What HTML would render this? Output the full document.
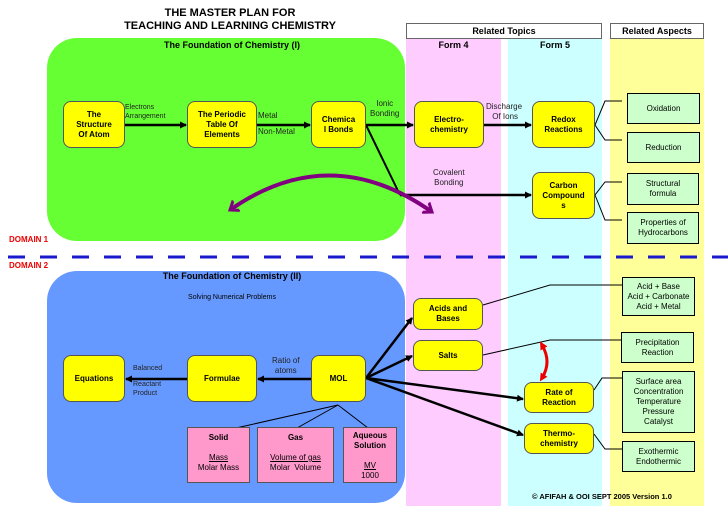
<!DOCTYPE html>
<html><head><style>
body{margin:0;width:728px;height:514px;background:#fff;font-family:"Liberation Sans",sans-serif;position:relative;overflow:hidden}
.a{position:absolute}
.y{position:absolute;background:#ffff00;border:1px solid #555;border-radius:8px;display:flex;align-items:center;justify-content:center;text-align:center;font-weight:bold;font-size:8px;line-height:10px;box-sizing:border-box}
.g{position:absolute;background:#ccffcc;border:1px solid #000;display:flex;align-items:center;justify-content:center;text-align:center;font-size:8px;line-height:10px;box-sizing:border-box}
.p{position:absolute;background:#ff99cc;border:1px solid #555;text-align:center;font-size:8px;line-height:10px;box-sizing:border-box;padding-top:5px}
.t{position:absolute;font-size:7px;line-height:9px;color:#222}
</style></head><body>
<div class="a" style="left:406px;top:38px;width:95px;height:468px;background:#ffccff"></div>
<div class="a" style="left:508px;top:38px;width:94px;height:468px;background:#ccffff"></div>
<div class="a" style="left:610px;top:38px;width:94px;height:468px;background:#ffff99"></div>
<div class="a" style="left:406px;top:23px;width:196px;height:16px;border:1px solid #666;box-sizing:border-box;font-size:9px;font-weight:bold;text-align:center;line-height:14px;background:#fff">Related Topics</div>
<div class="a" style="left:610px;top:23px;width:94px;height:16px;border:1px solid #666;box-sizing:border-box;font-size:9px;font-weight:bold;text-align:center;line-height:14px;background:#fff">Related Aspects</div>
<div class="a" style="left:406px;top:40px;width:95px;text-align:center;font-size:9px;font-weight:bold">Form 4</div>
<div class="a" style="left:508px;top:40px;width:94px;text-align:center;font-size:9px;font-weight:bold">Form 5</div>
<div class="a" style="left:47px;top:38px;width:358px;height:203px;background:#66ff33;border-radius:30px"></div>
<div class="a" style="left:47px;top:271px;width:358px;height:232px;background:#6699ff;border-radius:30px"></div>
<div class="a" style="left:0;top:7px;width:460px;text-align:center;font-size:11px;font-weight:bold;line-height:13px">THE MASTER PLAN FOR<br>TEACHING AND LEARNING CHEMISTRY</div>
<div class="a" style="left:47px;top:40px;width:370px;text-align:center;font-size:9px;font-weight:bold">The Foundation of Chemistry (I)</div>
<div class="a" style="left:47px;top:271px;width:370px;text-align:center;font-size:9px;font-weight:bold">The Foundation of Chemistry (II)</div>
<div class="a" style="left:47px;top:294px;width:370px;text-align:center;font-size:7px">Solving Numerical Problems</div>
<div class="a" style="left:9px;top:235px;font-size:8px;font-weight:bold;color:#e00">DOMAIN 1</div>
<div class="a" style="left:9px;top:261px;font-size:8px;font-weight:bold;color:#e00">DOMAIN 2</div>
<svg class="a" style="left:0;top:0" width="728" height="514">
<defs><marker id="m" markerWidth="7" markerHeight="7" refX="6" refY="3.5" orient="auto" markerUnits="userSpaceOnUse"><path d="M0,0L7,3.5L0,7z" fill="#000"/></marker>
<marker id="pm" markerWidth="14" markerHeight="14" refX="8" refY="7" orient="auto-start-reverse" markerUnits="userSpaceOnUse"><path d="M0,1L8,7L0,13" fill="none" stroke="#800080" stroke-width="3"/></marker>
<marker id="rm" markerWidth="8" markerHeight="8" refX="4" refY="4" orient="auto-start-reverse" markerUnits="userSpaceOnUse"><path d="M0,0L8,4L0,8z" fill="#e00"/></marker></defs>
<line x1="8" y1="257" x2="728" y2="257" stroke="#1a1acc" stroke-width="3" stroke-dasharray="17,15"/>
<g stroke="#000" stroke-width="2.5" marker-end="url(#m)">
<line x1="125" y1="125" x2="186" y2="125"/><line x1="257" y1="125" x2="310" y2="125"/>
<line x1="366" y1="125" x2="413" y2="125"/><line x1="484" y1="125" x2="531" y2="125"/>
<line x1="400" y1="195" x2="531" y2="195"/>
<line x1="311" y1="379" x2="258" y2="379"/><line x1="187" y1="379" x2="126" y2="379"/>
<line x1="366" y1="378" x2="412" y2="318"/><line x1="366" y1="378" x2="412" y2="356"/>
<line x1="366" y1="378" x2="523" y2="399"/><line x1="366" y1="378" x2="523" y2="435"/>
</g>
<polyline points="366,125 400,195" fill="none" stroke="#000" stroke-width="2"/>
<path d="M230,210 Q330,140 432,212" fill="none" stroke="#800080" stroke-width="4" marker-end="url(#pm)" marker-start="url(#pm)"/>
<g stroke="#000" stroke-width="1" fill="none">
<polyline points="622,101 605,101 595,125 605,140 622,140"/>
<polyline points="622,182 605,182 595,195 605,220 622,220"/>
<polyline points="483,305 550,285 622,285"/>
<polyline points="483,355 550,340 621,340"/>
<polyline points="594,390 602,378 622,378"/>
<polyline points="594,434 605,449 622,449"/>
<polyline points="338,405 236,428"/><polyline points="338,405 297,428"/><polyline points="338,405 368,428"/>
</g>
<path d="M542,345 Q552,362 542,378" fill="none" stroke="#e00" stroke-width="3" marker-end="url(#rm)" marker-start="url(#rm)"/>
</svg>
<div class="t" style="left:125px;top:103px">Electrons<br>Arrangement</div>
<div class="t" style="left:258px;top:111px;font-size:8px">Metal</div>
<div class="t" style="left:258px;top:127px;font-size:8px">Non-Metal</div>
<div class="t" style="left:370px;top:99px;text-align:center;font-size:8px;line-height:10px">Ionic<br>Bonding</div>
<div class="t" style="left:486px;top:102px;text-align:center;font-size:8px;line-height:10px">Discharge<br>&nbsp;Of Ions</div>
<div class="t" style="left:433px;top:168px;text-align:center;font-size:8px;line-height:10px">Covalent<br>Bonding</div>
<div class="t" style="left:272px;top:356px;text-align:center;font-size:8px;line-height:10px">Ratio of<br>atoms</div>
<div class="t" style="left:133px;top:364px">Balanced</div>
<div class="t" style="left:133px;top:380px">Reactant<br>Product</div>
<div class="y" style="left:63px;top:101px;width:62px;height:47px">The<br>Structure<br>Of Atom</div>
<div class="y" style="left:187px;top:101px;width:70px;height:47px">The Periodic<br>Table Of<br>Elements</div>
<div class="y" style="left:311px;top:101px;width:55px;height:47px">Chemica<br>l Bonds</div>
<div class="y" style="left:414px;top:101px;width:70px;height:47px">Electro-<br>chemistry</div>
<div class="y" style="left:532px;top:101px;width:63px;height:47px">Redox<br>Reactions</div>
<div class="y" style="left:532px;top:172px;width:63px;height:47px">Carbon<br>Compound<br>s</div>
<div class="y" style="left:63px;top:355px;width:62px;height:47px">Equations</div>
<div class="y" style="left:187px;top:355px;width:70px;height:47px">Formulae</div>
<div class="y" style="left:311px;top:355px;width:55px;height:47px">MOL</div>
<div class="y" style="left:413px;top:298px;width:70px;height:32px">Acids and<br>Bases</div>
<div class="y" style="left:413px;top:340px;width:70px;height:31px">Salts</div>
<div class="y" style="left:524px;top:382px;width:70px;height:31px">Rate of<br>Reaction</div>
<div class="y" style="left:524px;top:423px;width:70px;height:31px">Thermo-<br>chemistry</div>
<div class="g" style="left:627px;top:93px;width:73px;height:31px">Oxidation</div>
<div class="g" style="left:627px;top:132px;width:73px;height:31px">Reduction</div>
<div class="g" style="left:627px;top:173px;width:72px;height:32px">Structural<br>formula</div>
<div class="g" style="left:627px;top:212px;width:72px;height:32px">Properties of<br>Hydrocarbons</div>
<div class="g" style="left:622px;top:277px;width:73px;height:39px">Acid + Base<br>Acid + Carbonate<br>Acid + Metal</div>
<div class="g" style="left:621px;top:332px;width:73px;height:31px">Precipitation<br>Reaction</div>
<div class="g" style="left:622px;top:371px;width:73px;height:62px">Surface area<br>Concentration<br>Temperature<br>Pressure<br>Catalyst</div>
<div class="g" style="left:622px;top:441px;width:73px;height:31px">Exothermic<br>Endothermic</div>
<div class="p" style="left:187px;top:427px;width:63px;height:56px"><b>Solid</b><br><br><u>Mass</u><br>Molar Mass</div>
<div class="p" style="left:257px;top:427px;width:77px;height:56px"><b>Gas</b><br><br><u>Volume of gas</u><br>Molar&nbsp; Volume</div>
<div class="p" style="left:343px;top:427px;width:54px;height:56px;padding-top:3px"><b>Aqueous<br>Solution</b><br><br><u>MV</u><br>1000</div>
<div class="a" style="left:532px;top:492px;font-size:7.5px;font-weight:bold">© AFIFAH &amp; OOI SEPT 2005 Version 1.0</div>
</body></html>
